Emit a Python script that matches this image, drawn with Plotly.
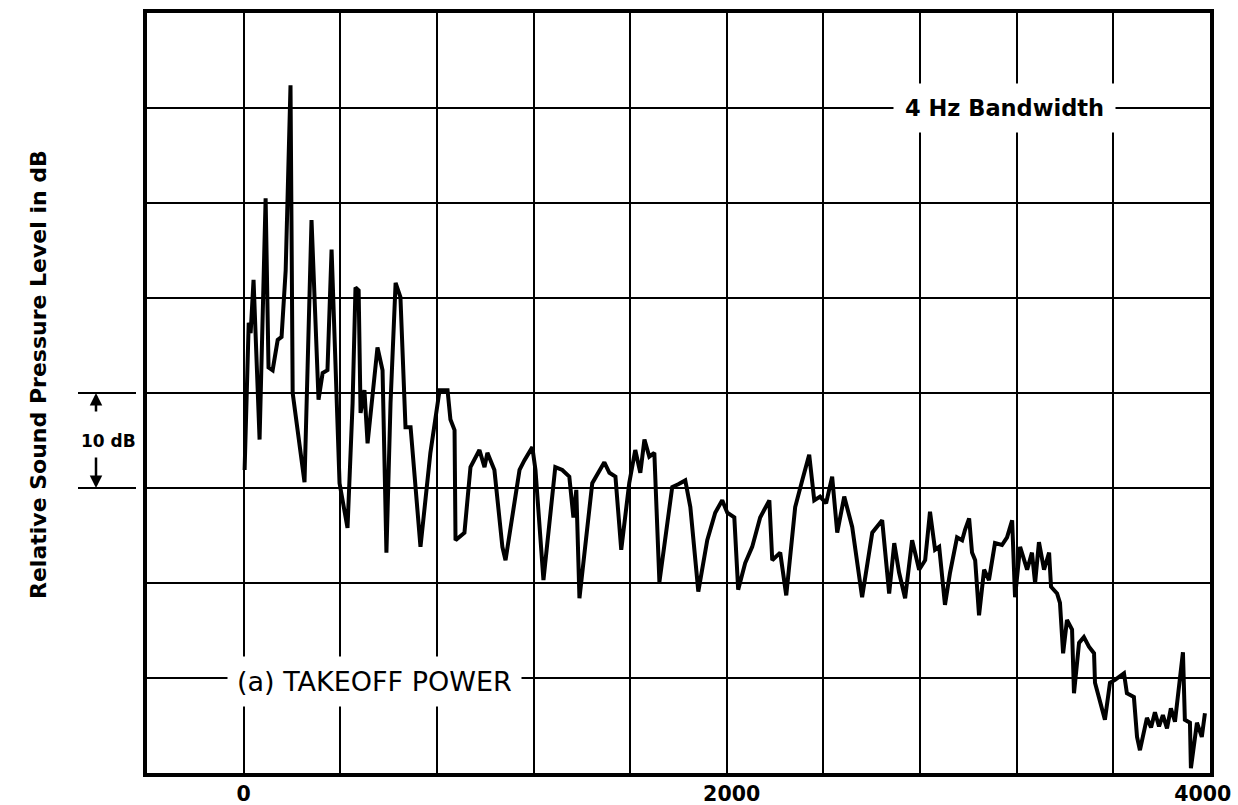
import plotly.graph_objects as go

# Frequency (Hz) and relative level (dB)
freq_hz = [4, 21, 29, 41, 66, 91, 103, 120, 141, 157, 174, 194, 203, 252, 281, 310, 327, 347, 364, 397,
           430, 451, 463, 476, 484, 500, 513, 534, 554, 575, 591, 608, 629, 649, 670, 691, 732, 773, 811, 844,
           856, 873, 877, 914, 939, 976, 997, 1009, 1038, 1071, 1084, 1142, 1162, 1195, 1208, 1241, 1290, 1319, 1348, 1365,
           1377, 1390, 1443, 1493, 1514, 1539, 1563, 1596, 1621, 1642, 1659, 1679, 1700, 1721, 1774, 1799, 1828, 1849, 1882, 1919,
           1952, 1981, 2002, 2031, 2047, 2076, 2105, 2138, 2176, 2188, 2221, 2246, 2283, 2312, 2341, 2362, 2386, 2411, 2436, 2457,
           2486, 2519, 2560, 2602, 2643, 2672, 2693, 2713, 2738, 2767, 2796, 2821, 2841, 2862, 2879, 2903, 2924, 2953, 2974, 2986,
           3003, 3015, 3028, 3044, 3065, 3085, 3110, 3139, 3160, 3181, 3193, 3214, 3243, 3263, 3276, 3292, 3313, 3334, 3342, 3367,
           3379, 3392, 3408, 3429, 3437, 3458, 3478, 3499, 3520, 3524, 3553, 3565, 3586, 3607, 3644, 3656, 3685, 3698, 3710, 3739,
           3756, 3772, 3789, 3805, 3822, 3838, 3855, 3871, 3888, 3896, 3917, 3921, 3946, 3966, 3979]
level_db = [31.9, 47.4, 46.3, 51.9, 35.1, 60.5, 42.7, 42.4, 45.6, 45.9, 52.9, 72.4, 40.0, 30.6, 58.2, 39.3, 42.1, 42.4, 55.1, 30.5,
            25.8, 38.9, 51.1, 50.8, 37.9, 40.3, 34.7, 40.3, 44.8, 42.4, 23.2, 38.9, 51.6, 50.1, 36.4, 36.4, 23.8, 33.7, 40.3, 40.3,
            37.2, 36.1, 24.5, 25.3, 32.2, 34.0, 32.2, 33.7, 31.9, 23.8, 22.4, 31.9, 32.9, 34.3, 31.9, 20.3, 32.2, 31.9, 31.2, 26.9,
            29.8, 18.4, 30.5, 32.7, 31.6, 31.2, 23.5, 30.5, 34.0, 31.6, 35.1, 33.3, 33.7, 20.1, 30.1, 30.4, 30.8, 28.0, 19.1, 24.5,
            27.4, 28.7, 27.4, 26.9, 19.3, 22.1, 23.8, 26.9, 28.7, 22.4, 23.2, 18.7, 28.0, 30.8, 33.5, 28.7, 29.1, 28.4, 31.2, 25.3,
            29.1, 25.9, 18.5, 25.3, 26.6, 18.9, 24.2, 21.1, 18.4, 24.5, 21.4, 22.4, 27.5, 23.5, 23.8, 17.7, 21.1, 24.8, 24.5, 25.6,
            26.8, 23.2, 22.4, 16.6, 21.4, 20.3, 24.2, 24.0, 24.8, 26.6, 18.5, 23.8, 21.4, 23.2, 20.0, 24.3, 21.4, 23.2, 19.6, 18.9,
            17.9, 12.6, 16.1, 15.1, 8.4, 13.7, 14.3, 13.3, 12.6, 9.5, 6.9, 5.6, 9.5, 9.8, 10.5, 8.4, 8.0, 3.8, 2.4, 5.8,
            4.8, 6.4, 4.9, 6.1, 4.7, 6.8, 5.4, 9.1, 12.7, 5.6, 5.3, 0.5, 5.3, 3.8, 6.3]

x_grid = [-400, 0, 400, 800, 1200, 1600, 2000, 2400, 2800, 3200, 3600, 4000]
x_label_pos = [0, 2020, 3970]
x_labels = ["0", "2000", "4000"]
y_grid = [0, 10, 20, 30, 40, 50, 60, 70, 80]

FONT = "DejaVu Sans"
PW = 1063.0  # plot width in px (for paper offsets)

fig = go.Figure()
fig.add_trace(go.Scatter(x=freq_hz, y=level_db, mode="lines",
                         line=dict(color="black", width=4), showlegend=False,
                         hoverinfo="skip"))

fig.update_layout(
    width=1238, height=805,
    margin=dict(l=147, r=28, t=13, b=32, autoexpand=False),
    paper_bgcolor="white", plot_bgcolor="white",
    font=dict(family=FONT, color="black"),
)
fig.update_xaxes(range=[-400, 4000], tickvals=x_label_pos, ticktext=x_labels,
                 showgrid=False, automargin=False,
                 minor=dict(tickvals=x_grid, showgrid=True, gridcolor="black", gridwidth=2, ticks=""),
                 zeroline=False, showline=True, linecolor="black", linewidth=3.5, mirror=True,
                 ticks="", tickfont=dict(family=FONT, size=20.5, color="black", weight="bold"))
fig.update_yaxes(range=[0, 80], tickvals=y_grid, showticklabels=False, automargin=False,
                 showgrid=True, gridcolor="black", gridwidth=2,
                 zeroline=False, showline=True, linecolor="black", linewidth=3.5, mirror=True,
                 ticks="")

annotations = [
    dict(x=3150, y=70, xref="x", yref="y", text="4 Hz Bandwidth", showarrow=False,
         font=dict(family=FONT, size=22.5, color="black", weight="bold"),
         bgcolor="white", borderpad=11, xanchor="center", yanchor="middle"),
    dict(x=540, y=9.6, xref="x", yref="y", text="(a) TAKEOFF POWER", showarrow=False,
         font=dict(family=FONT, size=27, color="black"),
         bgcolor="white", borderpad=9, xanchor="center", yanchor="middle"),
    dict(x=-(147 - 108) / PW, y=35, xref="paper", yref="y", text="10 dB", showarrow=False,
         font=dict(family=FONT, size=17, color="black", weight="bold"),
         xanchor="center", yanchor="middle"),
    dict(x=-(147 - 96) / PW, y=40, xref="paper", yref="y", text="", showarrow=True,
         ax=0, ay=20, arrowhead=2, arrowsize=1, arrowwidth=2.5, arrowcolor="black"),
    dict(x=-(147 - 96) / PW, y=30, xref="paper", yref="y", text="", showarrow=True,
         ax=0, ay=-32, arrowhead=2, arrowsize=1, arrowwidth=2.5, arrowcolor="black"),
    dict(x=-(147 - 38) / PW, y=(773 - 375) / 760.0, xref="paper", yref="paper",
         text="Relative Sound Pressure Level in dB",
         showarrow=False, textangle=-90,
         font=dict(family=FONT, size=22, color="black", weight="bold"),
         xanchor="center", yanchor="middle"),
]
fig.update_layout(annotations=annotations)

shapes = [
    dict(type="line", xref="paper", yref="y", x0=-(147 - 78) / PW, x1=-(147 - 136) / PW, y0=40, y1=40,
         line=dict(color="black", width=2)),
    dict(type="line", xref="paper", yref="y", x0=-(147 - 78) / PW, x1=-(147 - 136) / PW, y0=30, y1=30,
         line=dict(color="black", width=2)),
]
fig.update_layout(shapes=shapes)

fig.write_html("out.html", config={"displayModeBar": False},
               post_script="document.body.style.margin='0px';document.body.style.overflow='hidden';")
